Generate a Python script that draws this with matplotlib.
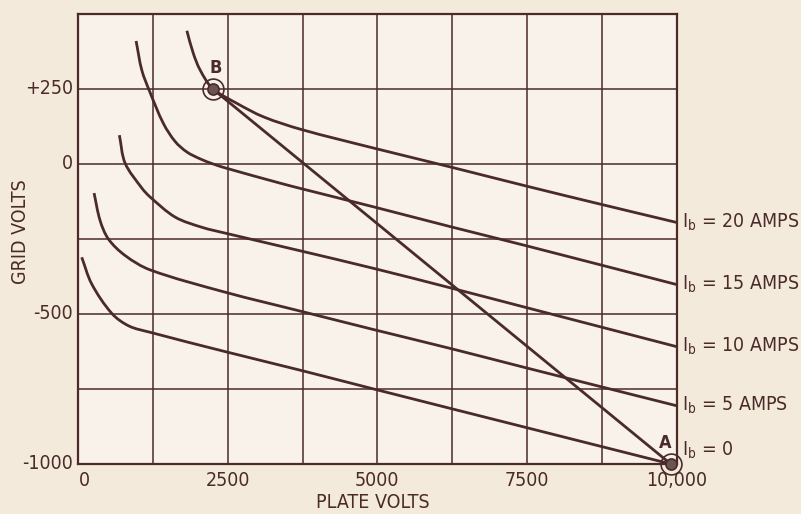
import matplotlib
matplotlib.use('Agg')
import matplotlib.pyplot as plt
import matplotlib as mplt
import numpy as np
from matplotlib.path import Path
from matplotlib.patches import PathPatch

# narrow font, like the scanned chart
mplt.rcParams['font.family'] = ['DejaVu Sans']
mplt.rcParams['font.stretch'] = 'condensed'
mplt.rcParams['mathtext.default'] = 'regular'

# data (plate volts, grid volts)
ib20_x = [1818, 1925, 2040, 2246, 2654, 3099, 3730, 4938, 6221, 7475, 8746, 10000]
ib20_y = [444, 369, 313, 252, 202, 157, 115, 53, -10, -73, -135, -195]

ib15_x = [970, 1065, 1200, 1426, 1622, 1818, 2040, 2257, 2475, 3378, 3724, 4938, 6221, 7475, 10000]
ib15_y = [410, 313, 240, 135, 75, 40, 17, 0, -14, -64, -82, -143, -209, -272, -402]

ib10_x = [691, 786, 1065, 1204, 1622, 2069, 2470, 3724, 4938, 6221, 7475, 10000]
ib10_y = [96, 3, -80, -110, -177, -211, -231, -290, -348, -413, -478, -609]

ib5_x = [268, 368, 507, 786, 1204, 2470, 3724, 4938, 6221, 7475, 10000]
ib5_y = [-97, -188, -250, -305, -353, -428, -491, -552, -615, -679, -806]

ib0_x = [62, 229, 564, 850, 1204, 2470, 3724, 4938, 7475, 9900]
ib0_y = [-311, -400, -498, -540, -561, -626, -688, -750, -878, -1000]

curve_labels = ['20 AMPS', '15 AMPS', '10 AMPS', '5 AMPS', '0']

point_a = (9900, -1000)
point_b = (2250, 250)

x_ticks = [0, 2500, 5000, 7500, 10000]
x_tick_labels = ['0', '2500', '5000', '7500', '10,000']
y_ticks = [-1000, -500, 0, 250]
y_tick_labels = ['-1000', '-500', '0', '+250']

ink = '#4a2b29'
paper = '#f4eadc'


def smooth_path(xs, ys, sx=1 / 16.7, sy=1 / 3.34):
    # cubic bezier through the read points (chord-length tangents)
    p = np.column_stack([xs, ys]).astype(float)
    q = p * [sx, sy]
    t = np.concatenate([[0], np.cumsum(np.hypot(*np.diff(q, axis=0).T))])
    m = np.zeros_like(p)
    m[0] = (p[1] - p[0]) / (t[1] - t[0])
    m[-1] = (p[-1] - p[-2]) / (t[-1] - t[-2])
    for i in range(1, len(p) - 1):
        m[i] = (p[i + 1] - p[i - 1]) / (t[i + 1] - t[i - 1])
    verts = [p[0]]
    codes = [Path.MOVETO]
    for i in range(len(p) - 1):
        h = (t[i + 1] - t[i]) / 3
        verts += [p[i] + m[i] * h, p[i + 1] - m[i + 1] * h, p[i + 1]]
        codes += [Path.CURVE4] * 3
    return Path(verts, codes)


fig = plt.figure(figsize=(8.01, 5.14), dpi=100, facecolor=paper)
ax = fig.add_axes([0.0974, 0.0973, 0.7475, 0.8755])
ax.set_facecolor('#f8f2ea')

curves = [(ib20_x, ib20_y), (ib15_x, ib15_y), (ib10_x, ib10_y),
          (ib5_x, ib5_y), (ib0_x, ib0_y)]
for cx, cy in curves:
    ax.add_patch(PathPatch(smooth_path(cx, cy), fill=False, edgecolor=ink,
                           lw=2.0, capstyle='butt', zorder=3))

# load line A-B
ax.plot([point_b[0], point_a[0]], [point_b[1], point_a[1]], color=ink, lw=2.0, zorder=3)

# circled points
for p in (point_a, point_b):
    ax.plot(*p, 'o', ms=15, mfc='none', mec=ink, mew=1.2, zorder=4, clip_on=False)
    ax.plot(*p, 'o', ms=8, mfc='#6b5552', mec=ink, mew=1.2, zorder=4, clip_on=False)
ax.text(point_b[0] + 50, point_b[1] + 40, 'B', color=ink, fontsize=13,
        fontweight='bold', ha='center', va='bottom')
ax.text(point_a[0] - 100, point_a[1] + 40, 'A', color=ink, fontsize=13,
        fontweight='bold', ha='center', va='bottom')

# labels at the right end of each curve
for (cx, cy), lab in zip(curves, curve_labels):
    yy = cy[-1] if lab != '0' else cy[-1] + 45
    ax.text(10080, yy, r'I$_{b}$ = ' + lab, color=ink, fontsize=14,
            ha='left', va='center', clip_on=False)

ax.set_xlim(0, 10000)
ax.set_ylim(-1000, 500)
ax.set_xticks([i * 1250 for i in range(9)])
ax.set_yticks([-1000 + i * 250 for i in range(7)])
ax.grid(True, color=ink, lw=1.1)
ax.tick_params(length=0, labelleft=False, labelbottom=False)
for s in ax.spines.values():
    s.set_color(ink)
    s.set_linewidth(1.6)

for xt, lab in zip(x_ticks, x_tick_labels):
    ax.text(xt + (100 if xt == 0 else 0), -1025, lab, color=ink, fontsize=14,
            ha='center', va='top')
for yt, lab in zip(y_ticks, y_tick_labels):
    ax.text(-80, yt, lab, color=ink, fontsize=14, ha='right', va='center')

fig.text(0.466, 0.004, 'PLATE VOLTS', color=ink, fontsize=14, ha='center', va='bottom')
fig.text(0.025, 0.549, 'GRID VOLTS', color=ink, fontsize=14, ha='center',
         va='center', rotation=90)

fig.savefig('out.png', dpi=100, facecolor=paper)
